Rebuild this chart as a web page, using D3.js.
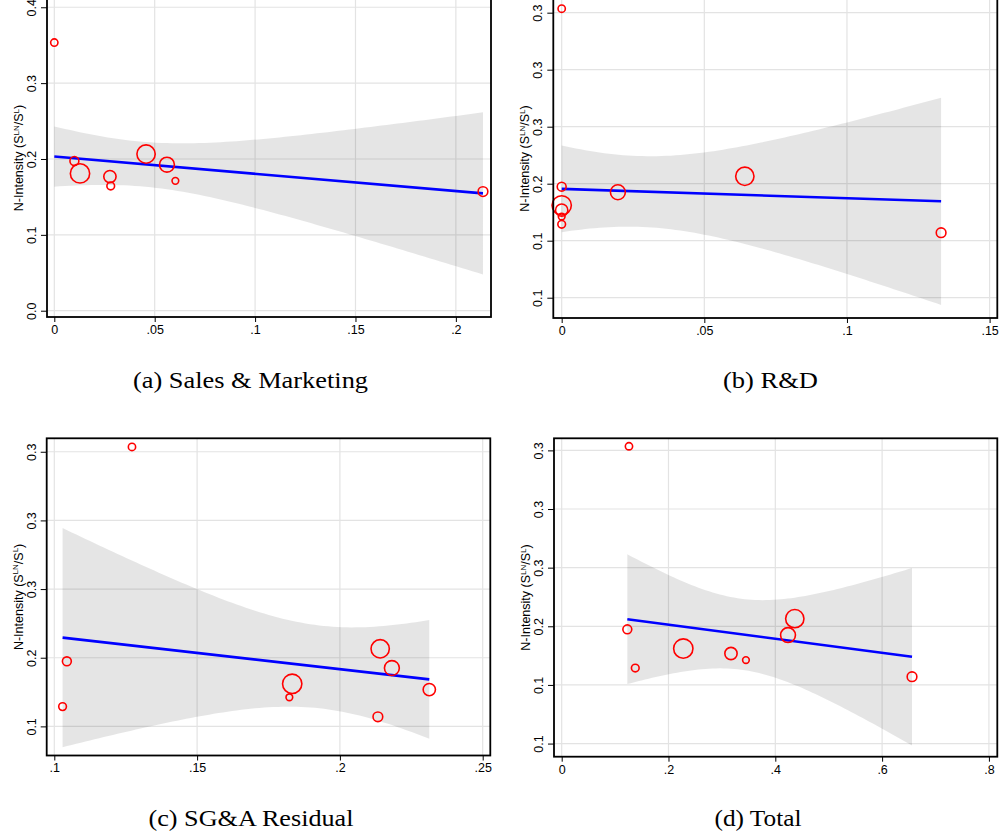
<!DOCTYPE html>
<html>
<head>
<meta charset="utf-8">
<script src="https://cdn.jsdelivr.net/npm/d3@7"></script>
<style>
  body { margin: 0; background: #fff; }
  svg { display: block; }
</style>
</head>
<body>
<svg id="chart" width="1000" height="836"></svg>
<script>
// Nine firms; the outcome (N-intensity) is the same in every panel,
// only the spending share on the x axis changes.
const nIntensity    = [0.3535, 0.1974, 0.1810, 0.1768, 0.1644, 0.2065, 0.1925, 0.1712, 0.1570];
const firmWeight    = [15.7, 23.4, 110, 44.7, 17.5, 98.9, 65.6, 13.2, 27.8];

const salesMarketing = [0.0000, 0.0100, 0.0128, 0.0277, 0.0281, 0.0457, 0.0561, 0.0603, 0.2135];
const researchDev    = [0.0000, 0.0000, 0.0000, 0.0000, 0.0000, 0.0642, 0.0197, 0.0000, 0.1330];
const sgaResidual    = [0.1272, 0.1044, 0.1833, 0.2313, 0.1029, 0.2141, 0.2182, 0.1823, 0.2133];
const totalSpend     = [0.1260, 0.1229, 0.2277, 0.3170, 0.1378, 0.4365, 0.4238, 0.3450, 0.6560];

const xTicksA = [0, 0.05, 0.1, 0.15, 0.2];
const xLabelsA = ["0", ".05", ".1", ".15", ".2"];
const yTicksA = [0, 0.1, 0.2, 0.3, 0.4];
const yLabelsA = ["0.0", "0.1", "0.2", "0.3", "0.4"];

const xTicksB = [0, 0.05, 0.1, 0.15];
const xLabelsB = ["0", ".05", ".1", ".15"];
const yTicksB = [0.10, 0.15, 0.20, 0.25, 0.30, 0.35];
const yLabelsB = ["0.1", "0.1", "0.2", "0.3", "0.3", "0.3"];

const xTicksC = [0.1, 0.15, 0.2, 0.25];
const xLabelsC = [".1", ".15", ".2", ".25"];
const yTicksC = [0.15, 0.20, 0.25, 0.30, 0.35];
const yLabelsC = ["0.1", "0.2", "0.3", "0.3", "0.3"];

const xTicksD = [0, 0.2, 0.4, 0.6, 0.8];
const xLabelsD = ["0", ".2", ".4", ".6", ".8"];
const yTicksD = [0.10, 0.15, 0.20, 0.25, 0.30, 0.35];
const yLabelsD = ["0.1", "0.1", "0.2", "0.3", "0.3", "0.3"];

const captions = ["(a) Sales & Marketing", "(b) R&D", "(c) SG&A Residual", "(d) Total"];

// Panel geometry (pixels) and axis ranges
const panels = [
  { x: salesMarketing, xt: xTicksA, xl: xLabelsA, yt: yTicksA, yl: yLabelsA, cap: captions[0],
    left: 47, right: 491, top: -1, bottom: 317,
    xDom: [-0.00364, 0.2175], yDom: [-0.0083, 0.4109], capX: 250.5, capY: 388, capW: 235 },
  { x: researchDev, xt: xTicksB, xl: xLabelsB, yt: yTicksB, yl: yLabelsB, cap: captions[1],
    left: 553.3, right: 997.3, top: -1, bottom: 318,
    xDom: [-0.00294, 0.1527], yDom: [0.0822, 0.3620], capX: 770.5, capY: 388, capW: 95 },
  { x: sgaResidual, xt: xTicksC, xl: xLabelsC, yt: yTicksC, yl: yLabelsC, cap: captions[2],
    left: 46.7, right: 490.3, top: 438.3, bottom: 755.5,
    xDom: [0.09734, 0.25266], yDom: [0.1288, 0.3598], capX: 251, capY: 826, capW: 205 },
  { x: totalSpend, xt: xTicksD, xl: xLabelsD, yt: yTicksD, yl: yLabelsD, cap: captions[3],
    left: 554, right: 997.3, top: 438.3, bottom: 756.7,
    xDom: [-0.0144, 0.8157], yDom: [0.0888, 0.3603], capX: 758, capY: 826, capW: 87 }
];

// Weighted least squares fit (analytic weights) with a 95% CI for the mean prediction
function weightedFit(xs, ys, ws) {
  const n = xs.length;
  const wsum = d3.sum(ws);
  const w = ws.map(v => v * n / wsum);
  const mx = d3.sum(xs.map((v, i) => w[i] * v)) / n;
  const my = d3.sum(ys.map((v, i) => w[i] * v)) / n;
  let sxx = 0, sxy = 0;
  xs.forEach((v, i) => { sxx += w[i] * (v - mx) ** 2; sxy += w[i] * (v - mx) * (ys[i] - my); });
  const b = sxy / sxx, a = my - b * mx;
  let sse = 0;
  xs.forEach((v, i) => { sse += w[i] * (ys[i] - a - b * v) ** 2; });
  const s = Math.sqrt(sse / (n - 2));
  const t = 2.3646; // t(0.975, 7)
  return {
    at: xv => a + b * xv,
    half: xv => t * s * Math.sqrt(1 / n + (xv - mx) ** 2 / sxx)
  };
}

const svg = d3.select("#chart");
const rScale = d3.scaleSqrt().domain([0, 110]).range([0, 9.65]);

panels.forEach(p => {
  const x = d3.scaleLinear().domain(p.xDom).range([p.left, p.right]);
  const y = d3.scaleLinear().domain(p.yDom).range([p.bottom, p.top]);
  const g = svg.append("g");

  // grid
  g.selectAll(".gx").data(p.xt).join("line")
    .attr("x1", d => x(d)).attr("x2", d => x(d))
    .attr("y1", p.top).attr("y2", p.bottom)
    .attr("stroke", "#e3e3e3").attr("stroke-width", 1.2);
  g.selectAll(".gy").data(p.yt).join("line")
    .attr("x1", p.left).attr("x2", p.right)
    .attr("y1", d => y(d)).attr("y2", d => y(d))
    .attr("stroke", "#e3e3e3").attr("stroke-width", 1.2);

  // fit + confidence band
  const fit = weightedFit(p.x, nIntensity, firmWeight);
  const [x0, x1] = d3.extent(p.x);
  const steps = d3.range(0, 81).map(i => x0 + (x1 - x0) * i / 80);
  const area = d3.area()
    .x(d => x(d))
    .y0(d => y(fit.at(d) - fit.half(d)))
    .y1(d => y(fit.at(d) + fit.half(d)));
  g.append("path").datum(steps).attr("d", area)
    .attr("fill", "#000").attr("fill-opacity", 0.1);
  g.append("path").datum([x0, x1])
    .attr("d", d3.line().x(d => x(d)).y(d => y(fit.at(d))))
    .attr("stroke", "#0000ff").attr("stroke-width", 2.6).attr("fill", "none");

  // firms
  g.selectAll(".pt").data(p.x).join("circle")
    .attr("cx", d => x(d))
    .attr("cy", (d, i) => y(nIntensity[i]))
    .attr("r", (d, i) => rScale(firmWeight[i]))
    .attr("fill", "none").attr("stroke", "#ff0000").attr("stroke-width", 1.6);

  // frame
  g.append("rect")
    .attr("x", p.left).attr("y", p.top)
    .attr("width", p.right - p.left).attr("height", p.bottom - p.top)
    .attr("fill", "none").attr("stroke", "#000").attr("stroke-width", 1.8);

  // axes
  const ax = g.append("g").attr("transform", `translate(0,${p.bottom})`)
    .call(d3.axisBottom(x).tickValues(p.xt).tickFormat((d, i) => p.xl[i]).tickSize(5).tickPadding(3));
  ax.select(".domain").remove();
  ax.selectAll("text").attr("font-family", "'Liberation Sans', Arial, sans-serif")
    .attr("font-size", 12.5).attr("fill", "#000");

  const ay = g.append("g").attr("transform", `translate(${p.left},0)`)
    .call(d3.axisLeft(y).tickValues(p.yt).tickFormat((d, i) => p.yl[i]).tickSize(6));
  ay.select(".domain").remove();
  ay.selectAll("text")
    .attr("x", null).attr("dy", null)
    .attr("text-anchor", "middle")
    .attr("transform", "translate(-11,0) rotate(-90)")
    .attr("font-family", "'Liberation Sans', Arial, sans-serif")
    .attr("font-size", 12.5).attr("fill", "#000");

  // y title
  const yt = g.append("text")
    .attr("transform", `translate(${p.left - 24},${(p.top + p.bottom) / 2}) rotate(-90)`)
    .attr("text-anchor", "middle")
    .attr("font-family", "'Liberation Sans', Arial, sans-serif")
    .attr("font-size", 12.5).attr("fill", "#000");
  yt.append("tspan").text("N-Intensity (S");
  yt.append("tspan").attr("dy", -4.5).attr("font-size", 8).text("LN");
  yt.append("tspan").attr("dy", 4.5).text("/S");
  yt.append("tspan").attr("dy", -4.5).attr("font-size", 8).text("L");
  yt.append("tspan").attr("dy", 4.5).text(")");

  // caption
  svg.append("text")
    .attr("x", p.capX).attr("y", p.capY)
    .attr("text-anchor", "middle")
    .attr("font-family", "'Liberation Serif', 'Times New Roman', serif")
    .attr("font-size", 23).attr("fill", "#000")
    .attr("textLength", p.capW).attr("lengthAdjust", "spacingAndGlyphs")
    .text(p.cap);
});
</script>
</body>
</html>
